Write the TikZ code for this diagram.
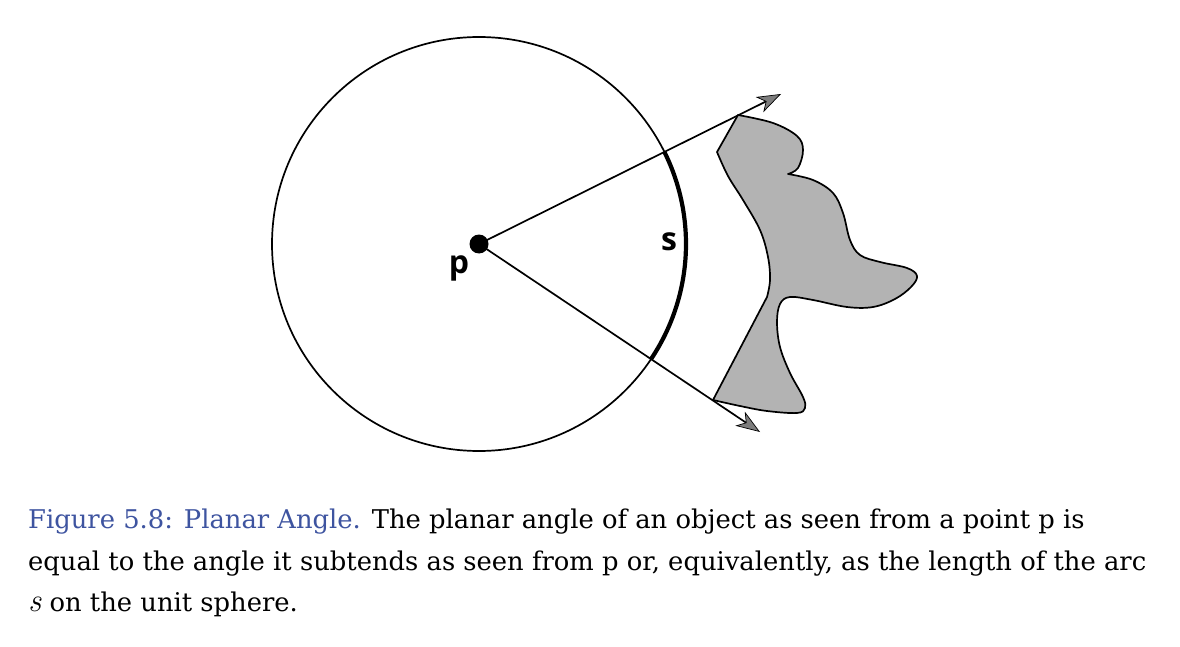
\documentclass[tikz,border=0pt]{standalone}
\usepackage{fontspec}
\setmainfont{DejaVu Serif}
\newfontfamily\labelfont{Open Sans}
\newfontfamily\lmfont{Latin Modern Roman}
\usepackage{xcolor}
\usetikzlibrary{positioning,calc,arrows.meta}
\definecolor{capblue}{RGB}{62,84,160}
\definecolor{objgray}{RGB}{179,179,179}
\definecolor{tipgray}{RGB}{125,125,125}

\begin{document}
\begin{tikzpicture}[x=1pt,y=-1pt,
    ray/.style={line width=1.7pt, -{Stealth[length=24pt,width=17pt,inset=7pt,fill=tipgray,line width=0.7pt]}},
    lbl/.style={font=\labelfont\bfseries\fontsize{32}{34}\selectfont, inner sep=0pt},
    captext/.style={anchor=base west, inner sep=0pt, font=\fontsize{25.8}{30}\selectfont}]
    \useasboundingbox (0,0) rectangle (1180,647);

    % Unit circle
    \node[circle, fill, inner sep=0pt, minimum size=19pt] (p) at (479,244) {};
    \draw[line width=1.7pt] (p.center) circle[radius=207];
    \draw[line width=4.2pt] ($(p.center)+(-26.3:207)$) arc[start angle=-26.3, end angle=33.6, radius=207];
    \node[lbl] (plabel) at (459,268) {p};
    \node[lbl] (slabel) at (669,242) {s};

    % Rays
    \coordinate (tipA) at (781,94);
    \coordinate (tipB) at (760,432);
    \draw[ray] (p.center) -- (tipA);
    \draw[ray] (p.center) -- (tipB);

    % Object
    \draw[line width=1.7pt, fill=objgray, line join=round]
        (738,115) -- plot[smooth, tension=0.6] coordinates {(738,115) (773,123) (797,136) (803,150) (798,168) (788,174)}
        -- plot[smooth, tension=0.6] coordinates {(788,174) (813,180) (833,193) (843,213) (850,240) (860,255) (880,262) (907,268) (917,276) (911,287) (895,299) (873,307) (847,307) (813,300) (790,297) (780,304) (777,322) (780,347) (790,373) (803,397) (805,408) (797,413) (767,411) (740,406) (713,400)}
        -- plot[smooth, tension=0.6] coordinates {(767,297) (770,280) (768,257) (760,230) (743,200) (728,176) (717,152)}
        -- cycle;

    % Caption
    \node[captext] (cap1) at (28,528) {\textcolor{capblue}{Figure 5.8: Planar Angle.} The planar angle of an object as seen from a point p is};
    \node[captext] (cap2) at (28,570) {equal to the angle it subtends as seen from p or, equivalently, as the length of the arc};
    \node[captext] (cap3) at (28,611) {{\lmfont\itshape\fontsize{33}{36}\selectfont s} on the unit sphere.};
\end{tikzpicture}
\end{document}
